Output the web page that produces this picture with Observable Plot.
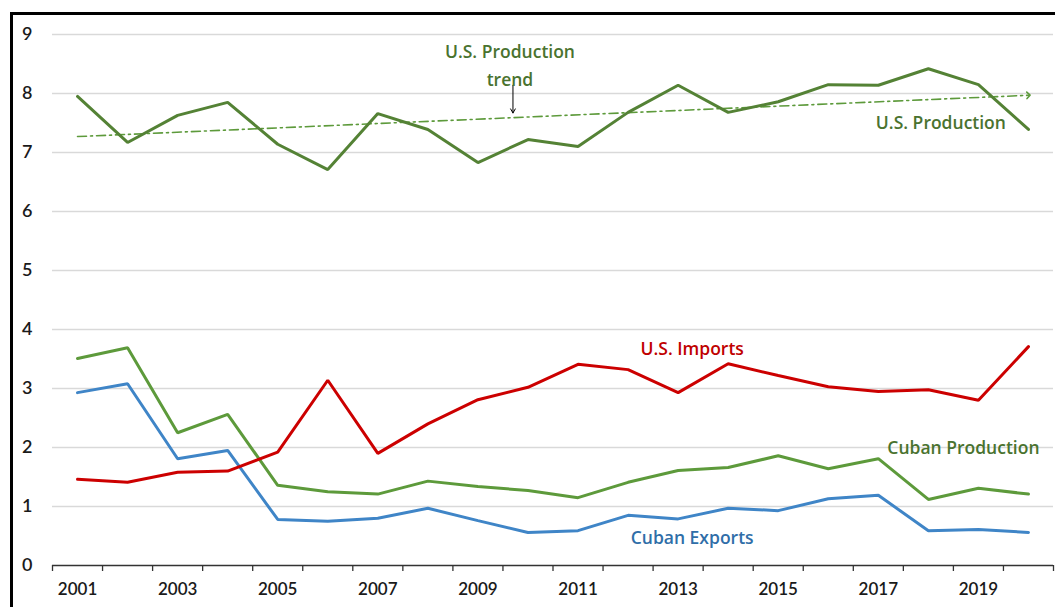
<!DOCTYPE html>
<html>
<head>
<meta charset="utf-8">
<script src="https://cdn.jsdelivr.net/npm/d3@7"></script>
<script src="https://cdn.jsdelivr.net/npm/@observablehq/plot@0.6"></script>
<style>
  html, body { margin: 0; padding: 0; background: #fff; }
  #wrap { position: relative; width: 1055px; height: 607px; overflow: hidden; }
  #frame { position: absolute; left: 10px; top: 12px; width: 1050px; height: 600px;
           border-left: 3px solid #000; border-top: 3px solid #000; pointer-events: none; }
  svg { display: block; }
</style>
</head>
<body>
<div id="wrap"><div id="chart"></div><div id="frame"></div></div>
<script>
// ---- data ----
const years = [2001,2002,2003,2004,2005,2006,2007,2008,2009,2010,2011,2012,2013,2014,2015,2016,2017,2018,2019,2020];
const usProduction   = [7.95,7.17,7.63,7.85,7.14,6.71,7.66,7.39,6.83,7.22,7.10,7.68,8.14,7.68,7.86,8.15,8.14,8.42,8.15,7.39];
const usImports      = [1.46,1.41,1.58,1.60,1.92,3.14,1.90,2.40,2.81,3.02,3.41,3.32,2.93,3.42,3.22,3.03,2.95,2.98,2.80,3.71];
const cubanProduction= [3.51,3.69,2.25,2.56,1.36,1.25,1.21,1.43,1.34,1.27,1.15,1.41,1.61,1.66,1.86,1.64,1.81,1.12,1.31,1.21];
const cubanExports   = [2.93,3.08,1.81,1.95,0.78,0.75,0.80,0.97,0.76,0.56,0.59,0.85,0.79,0.97,0.93,1.13,1.19,0.59,0.61,0.56];
const trendYears  = [2001, 2020];
const trendValues = [7.27, 7.97];
const yTicks = [0,1,2,3,4,5,6,7,8,9];
const xTickLabels = [2001,2003,2005,2007,2009,2011,2013,2015,2017,2019];

const labelText  = ["U.S. Production", "trend", "U.S. Production", "U.S. Imports", "Cuban Production", "Cuban Exports"];
const labelYear  = [2009.64, 2009.64, 2018.25, 2013.28, 2018.7, 2013.28];
const labelValue = [8.69, 8.23, 7.50, 3.66, 1.99, 0.46];
const labelColor = ["#4a732f", "#4a732f", "#4a732f", "#c00000", "#4a732f", "#2f6ea8"];

const pointerYear = [2009.7];
const pointerFrom = [8.14];
const pointerTo   = [7.67];

// ---- build tables ----
const series = [
  {name: "U.S. Production", values: usProduction, color: "#548235"},
  {name: "Cuban Production", values: cubanProduction, color: "#5d9a3b"},
  {name: "Cuban Exports", values: cubanExports, color: "#3f85c7"},
  {name: "U.S. Imports", values: usImports, color: "#cc0000"}
];
const rows = series.flatMap(s => years.map((yr, i) => ({series: s.name, year: yr, value: s.values[i], color: s.color})));
const trend = trendYears.map((yr, i) => ({year: yr, value: trendValues[i]}));
const labels = labelText.map((t, i) => ({text: t, year: labelYear[i], value: labelValue[i], color: labelColor[i]}));
const pointer = pointerYear.map((yr, i) => ({year: yr, from: pointerFrom[i], to: pointerTo[i]}));
const boundaries = years.map(yr => yr - 0.5).concat([years[years.length - 1] + 0.5]);

const font = "Lato, 'Open Sans', sans-serif";

const chart = Plot.plot({
  width: 1055,
  height: 607,
  marginLeft: 52,
  marginRight: 2,
  marginTop: 34,
  marginBottom: 42,
  style: {fontFamily: font, background: "#fff"},
  x: {domain: [2000.5, 2020.5]},
  y: {domain: [0, 9]},
  marks: [
    Plot.gridY(yTicks.filter(d => d > 0), {stroke: "#d9d9d9", strokeOpacity: 1, strokeWidth: 1.5}),
    Plot.axisY(yTicks, {tickSize: 0, tickPadding: 20, fontSize: 18, fontWeight: 600, fill: "#1a1a1a", tickFormat: d => String(d), label: null}),
    Plot.axisX(boundaries, {tickSize: 6, tickFormat: () => "", stroke: "#333", strokeWidth: 1.3, label: null}),
    Plot.axisX(xTickLabels, {tickSize: 0, tickPadding: 17, fontSize: 17, fontWeight: 600, fill: "#1a1a1a", tickFormat: d => String(d), label: null}),
    Plot.ruleY([0], {stroke: "#333", strokeWidth: 1.3}),
    Plot.line(trend, {x: "year", y: "value", stroke: "#5d9a3b", strokeWidth: 1.6, strokeDasharray: "9 4 2 4", markerEnd: "arrow"}),
    Plot.line(rows, {x: "year", y: "value", z: "series", stroke: "color", strokeWidth: 3, strokeLinejoin: "miter"}),
    Plot.arrow(pointer, {x1: "year", y1: "from", x2: "year", y2: "to", stroke: "#000", strokeWidth: 1, headLength: 7}),
    Plot.text(labels, {x: "year", y: "value", text: "text", fill: "color", fontSize: 17.5, fontWeight: 600, fontFamily: "'Open Sans', sans-serif"})
  ]
});
document.getElementById("chart").appendChild(chart);
</script>
</body>
</html>
